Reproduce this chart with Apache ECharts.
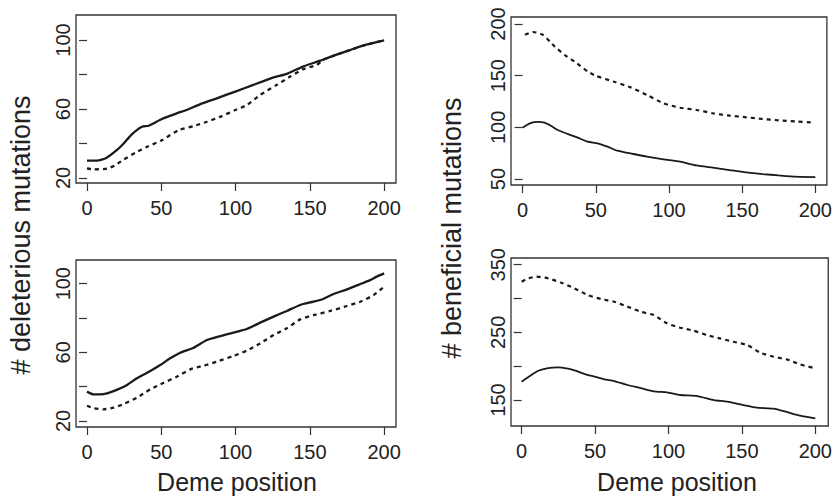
<!DOCTYPE html>
<html>
<head>
<meta charset="utf-8">
<script src="https://cdn.jsdelivr.net/npm/echarts@6/dist/echarts.min.js"></script>
<style>
html,body{margin:0;padding:0;background:#fff;}
#chart{width:835px;height:497px;}
</style>
</head>
<body>
<div id="chart"></div>
<script>
// ---- Data ----
// Top-left: deleterious mutations
const delTopSolidX = [0, 6.7, 13, 20, 24.7, 30, 37, 41.5, 50.4, 60.5, 67, 76, 87.4, 99.8, 112, 125.6, 134.5, 145.7, 157, 168, 179, 188, 200];
const delTopSolidY = [30.1, 30.1, 31.6, 36.1, 40, 45.2, 49.7, 50.3, 54.2, 57.5, 59.4, 62.7, 66.2, 70.1, 74, 78.3, 80.4, 84.7, 88, 91.5, 94.8, 97.3, 99.8];
const delTopDashX = [0, 4.5, 13.5, 19, 24.7, 33.6, 40, 50.4, 61.7, 71.7, 80.7, 90.8, 99.8, 107.6, 116.6, 127.8, 136.8, 145.7, 154.7, 159, 168, 179, 188, 200];
const delTopDashY = [25.6, 25, 25.4, 27.4, 30.7, 35.1, 37.9, 41.9, 47.8, 50.1, 52.6, 55.9, 59.4, 62.3, 68.2, 74, 78.8, 83.1, 85.6, 88.5, 91.5, 94.8, 97.3, 99.8];
// Top-right: beneficial mutations
const benTopSolidX = [0, 5, 10.6, 15, 19.6, 24, 31, 37.7, 44.4, 51.2, 58, 64.7, 73.7, 85, 96.3, 107.6, 118.8, 130, 141.4, 152.6, 164, 175, 186.5, 200];
const benTopSolidY = [99.7, 103.9, 105.2, 104.5, 101.3, 97.4, 93.5, 90, 86.1, 84.5, 81.3, 77.4, 74.8, 71.6, 69, 66.8, 63.2, 61, 58.7, 56.5, 54.8, 53.5, 52.3, 51.9];
const benTopDashX = [1.6, 7.2, 14, 22, 28.9, 35.7, 44.7, 50.3, 62.5, 73.8, 85.1, 96.4, 107.7, 119, 130.4, 141.7, 153, 164, 175, 186.5, 197.8];
const benTopDashY = [189.7, 192.3, 189.4, 178.1, 170, 163.5, 153.9, 149.7, 144.2, 138.7, 131.3, 123.2, 119, 116.8, 113.5, 111.3, 109.7, 108.1, 106.8, 105.8, 104.8];
// Bottom-left: deleterious mutations
const delBotSolidX = [0, 4.5, 9, 13.5, 20, 27, 33.6, 42.6, 49.3, 56, 62.8, 71.7, 80.7, 89.7, 98.6, 107.6, 116.6, 125.6, 134.5, 143.5, 152.5, 159, 166, 175, 184, 190.6, 195, 200];
const delBotSolidY = [37.1, 35.5, 35.5, 36.1, 38.1, 41, 44.9, 49.1, 52.6, 56.5, 59.8, 62.7, 67.2, 69.5, 71.5, 73.6, 77.3, 80.8, 84.1, 87.6, 89.5, 91.1, 94, 96.7, 99.8, 102.1, 104.1, 106];
const delBotDashX = [0, 4.5, 11, 18, 24.7, 33.6, 42.6, 51.6, 60.5, 69.5, 78.5, 87.4, 98.6, 107.6, 116.6, 125.6, 134.5, 143.5, 152.5, 163.7, 175, 184, 193, 200];
const delBotDashY = [28.9, 27.4, 26.8, 27.8, 29.9, 33.6, 38.4, 42.3, 45.8, 50.1, 52.2, 54.6, 57.9, 61, 65.2, 70.1, 74, 79.2, 81.7, 84.1, 87, 89.5, 93.4, 98.3];
// Bottom-right: beneficial mutations
const benBotSolidX = [0, 5.6, 11.3, 18, 24.8, 31.6, 36, 43, 49.7, 56.4, 63, 72, 81, 90, 99, 108, 119.6, 131, 140, 151, 160, 171.5, 180.5, 189.6, 200];
const benBotSolidY = [177.1, 185.5, 193.3, 197.3, 198.3, 196.3, 193.8, 188.4, 184.5, 180.5, 178.1, 172.2, 167.7, 162.8, 161.3, 157.4, 155.9, 150, 147.5, 142.6, 138.7, 137.2, 132.3, 126.8, 122.9];
const benBotDashX = [0, 4.5, 10, 18, 27, 36, 45, 54, 63, 72, 81, 90, 99, 108, 117, 126, 135, 144, 153.5, 162.5, 171.5, 180.5, 189.6, 200];
const benBotDashY = [324.9, 329.8, 332.3, 329.8, 323.4, 315, 305.2, 299.3, 295.3, 288, 280.5, 275.6, 263.3, 256.9, 252.5, 246, 241.1, 236.2, 231.3, 220, 214, 210, 202.7, 196.8];

// Tick values / labels
const xTicks = [0, 50, 100, 150, 200];
const delYTicks = [20, 40, 60, 80, 100];
const delYLabels = [20, 60, 100];
const benTopYTicks = [50, 100, 150, 200];
const benTopYLabels = [50, 100, 150, 200];
const benBotYTicks = [150, 200, 250, 300, 350];
const benBotYLabels = [150, 250, 350];

const xTitle = 'Deme position';
const yTitleLeft = '# deleterious mutations';
const yTitleRight = '# beneficial mutations';

// ---- Build chart ----
const FONT = '"Liberation Sans", Arial, Helvetica, sans-serif';
const TXT = '#222';
function pairs(xs, ys) { return xs.map((x, i) => [x, ys[i]]); }

const grids = [
  {left: 76, top: 15, width: 320, height: 168},
  {left: 511, top: 17, width: 319, height: 168},
  {left: 76, top: 260, width: 320, height: 167},
  {left: 511, top: 258, width: 319, height: 168}
];
const xRanges = [[-7.4, 208], [-7.9, 207.9], [-7.4, 208], [-7.25, 208.8]];
const yRanges = [[17.1, 114.5], [44.2, 206.8], [16.5, 113.8], [111.6, 359.9]];
const yTickSets = [delYTicks, benTopYTicks, delYTicks, benBotYTicks];
const yLabelSets = [delYLabels, benTopYLabels, delYLabels, benBotYLabels];

const option = {
  animation: false,
  backgroundColor: '#fff',
  grid: grids.map(g => Object.assign({show: true, borderColor: '#333', borderWidth: 1.3, backgroundColor: 'transparent'}, g)),
  xAxis: grids.map((g, i) => ({
    type: 'value', gridIndex: i, min: xRanges[i][0], max: xRanges[i][1],
    axisLine: {show: false},
    splitLine: {show: false},
    axisTick: {show: true, length: 8, customValues: xTicks, lineStyle: {color: '#333', width: 1.2}},
    axisLabel: {customValues: xTicks, margin: 15, fontSize: 20, color: TXT, fontFamily: FONT}
  })),
  yAxis: grids.map((g, i) => ({
    type: 'value', gridIndex: i, min: yRanges[i][0], max: yRanges[i][1],
    axisLine: {show: false},
    splitLine: {show: false},
    axisTick: {show: true, length: 8, customValues: yTickSets[i], lineStyle: {color: '#333', width: 1.2}},
    axisLabel: {customValues: yLabelSets[i], rotate: 90, margin: 13, fontSize: 20, color: TXT, fontFamily: FONT, verticalAlign: 'middle', align: 'center'}
  })),
  series: [
    {data: pairs(delTopSolidX, delTopSolidY), idx: 0, w: 2.3, dash: 'solid'},
    {data: pairs(delTopDashX, delTopDashY), idx: 0, w: 2.3, dash: [4, 4]},
    {data: pairs(benTopSolidX, benTopSolidY), idx: 1, w: 1.8, dash: 'solid'},
    {data: pairs(benTopDashX, benTopDashY), idx: 1, w: 2.2, dash: [4, 4]},
    {data: pairs(delBotSolidX, delBotSolidY), idx: 2, w: 2.3, dash: 'solid'},
    {data: pairs(delBotDashX, delBotDashY), idx: 2, w: 2.3, dash: [4, 4]},
    {data: pairs(benBotSolidX, benBotSolidY), idx: 3, w: 1.8, dash: 'solid'},
    {data: pairs(benBotDashX, benBotDashY), idx: 3, w: 2.2, dash: [4, 4]}
  ].map(s => ({
    type: 'line', xAxisIndex: s.idx, yAxisIndex: s.idx, data: s.data,
    showSymbol: false, symbol: 'none', smooth: 0.2, silent: true,
    lineStyle: {color: '#1a1a1a', width: s.w, type: s.dash}
  })),
  graphic: [
    {type: 'text', x: 237, y: 482, style: {text: xTitle, font: '25px ' + FONT, fill: TXT, textAlign: 'center', textVerticalAlign: 'middle'}},
    {type: 'text', x: 677, y: 482, style: {text: xTitle, font: '25px ' + FONT, fill: TXT, textAlign: 'center', textVerticalAlign: 'middle'}},
    {type: 'text', x: 21, y: 235, rotation: Math.PI / 2, style: {text: yTitleLeft, font: '27px ' + FONT, fill: TXT, textAlign: 'center', textVerticalAlign: 'middle'}},
    {type: 'text', x: 452, y: 228, rotation: Math.PI / 2, style: {text: yTitleRight, font: '27px ' + FONT, fill: TXT, textAlign: 'center', textVerticalAlign: 'middle'}}
  ]
};

const chart = echarts.init(document.getElementById('chart'), null, {renderer: 'svg'});
chart.setOption(option);
</script>
</body>
</html>
